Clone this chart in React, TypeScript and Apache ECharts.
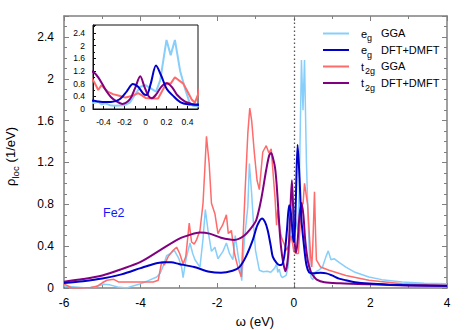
import React, { useEffect, useRef } from "react";
import * as echarts from "echarts";

// e_g GGA  [omega (eV), rho (1/eV)]
const egGGA: [number, number][] = [
  [-6.0, 0.02], [-5.7, 0.01], [-5.4, 0.0], [-5.2, 0.01], [-4.97, 0.035], [-4.8, 0.03], [-4.6, 0.01],
  [-4.36, 0.0], [-4.2, 0.02], [-4.0, 0.04], [-3.8, 0.07], [-3.58, 0.105], [-3.49, 0.14], [-3.4, 0.22],
  [-3.32, 0.31], [-3.22, 0.33], [-3.12, 0.36], [-3.0, 0.28], [-2.93, 0.2], [-2.89, 0.1], [-2.84, 0.22],
  [-2.8, 0.3], [-2.71, 0.43], [-2.64, 0.33], [-2.58, 0.27], [-2.45, 0.2], [-2.37, 0.47], [-2.31, 0.75],
  [-2.24, 0.55], [-2.15, 0.35], [-2.06, 0.39], [-1.98, 0.28], [-1.85, 0.35], [-1.76, 0.43], [-1.68, 0.33],
  [-1.59, 0.27], [-1.53, 0.5], [-1.45, 0.3], [-1.4, 0.2], [-1.36, 0.07], [-1.29, 0.46], [-1.2, 0.78],
  [-1.16, 1.19], [-1.1, 0.9], [-1.05, 0.6], [-1.0, 0.36], [-0.9, 0.17], [-0.8, 0.155], [-0.7, 0.16],
  [-0.6, 0.15], [-0.5, 0.19], [-0.45, 0.23], [-0.42, 0.15], [-0.38, 0.18], [-0.34, 0.12], [-0.3, 0.1],
  [-0.2, 0.12], [-0.15, 0.2], [-0.1, 0.45], [-0.05, 0.7], [0.0, 0.75], [0.05, 0.65], [0.1, 0.55],
  [0.14, 0.9], [0.2, 2.18], [0.24, 1.7], [0.28, 2.18], [0.33, 1.2], [0.38, 0.6], [0.42, 0.2],
  [0.45, 0.1], [0.5, 0.08], [0.55, 0.15], [0.65, 0.17], [0.75, 0.2], [0.84, 0.3], [0.9, 0.355],
  [0.97, 0.27], [1.05, 0.28], [1.2, 0.24], [1.36, 0.2], [1.6, 0.15], [1.96, 0.105], [2.3, 0.08],
  [2.83, 0.058], [3.4, 0.045], [4.0, 0.04],
];

// e_g DFT+DMFT
const egDMFT: [number, number][] = [
  [-6.0, 0.048], [-5.5, 0.065], [-5.0, 0.09], [-4.5, 0.13], [-4.0, 0.19], [-3.7, 0.225], [-3.4, 0.245],
  [-3.2, 0.245], [-3.0, 0.23], [-2.6, 0.2], [-2.2, 0.155], [-1.9, 0.145], [-1.6, 0.165], [-1.42, 0.2],
  [-1.25, 0.3], [-1.07, 0.46], [-0.95, 0.6], [-0.83, 0.665], [-0.75, 0.63], [-0.68, 0.55], [-0.6, 0.4],
  [-0.55, 0.3], [-0.45, 0.24], [-0.38, 0.22], [-0.33, 0.22], [-0.25, 0.3], [-0.18, 0.55], [-0.12, 0.79],
  [-0.07, 0.7], [-0.02, 0.48], [0.01, 0.44], [0.05, 0.8], [0.1, 1.37], [0.15, 1.05], [0.2, 0.65],
  [0.27, 0.39], [0.33, 0.22], [0.4, 0.15], [0.5, 0.14], [0.7, 0.145], [0.85, 0.14], [1.0, 0.12],
  [1.18, 0.09], [1.36, 0.074], [1.6, 0.055], [1.96, 0.042], [2.5, 0.032], [3.0, 0.027], [4.0, 0.022],
];

// t2g GGA
const t2gGGA: [number, number][] = [
  [-6.0, 0.04], [-5.9, 0.02], [-5.8, 0.0], [-5.5, 0.0], [-5.3, 0.005], [-5.14, 0.016], [-5.0, 0.05],
  [-4.88, 0.074], [-4.7, 0.083], [-4.58, 0.058], [-4.0, 0.058], [-3.67, 0.058], [-3.54, 0.074],
  [-3.45, 0.25], [-3.38, 0.22], [-3.28, 0.3], [-3.15, 0.36], [-3.06, 0.39], [-2.98, 0.33], [-2.89, 0.23],
  [-2.82, 0.3], [-2.73, 0.62], [-2.67, 0.44], [-2.6, 0.42], [-2.54, 0.46], [-2.45, 0.55], [-2.37, 0.81],
  [-2.32, 1.16], [-2.28, 1.45], [-2.21, 1.19], [-2.15, 0.81], [-2.06, 0.71], [-1.98, 0.52], [-1.94, 0.55],
  [-1.86, 0.6], [-1.76, 0.7], [-1.71, 0.52], [-1.63, 0.55], [-1.55, 0.33], [-1.46, 0.2], [-1.37, 0.105],
  [-1.27, 0.94], [-1.2, 1.48], [-1.15, 1.72], [-1.1, 1.6], [-1.03, 1.29], [-0.96, 1.03], [-0.9, 0.94],
  [-0.81, 1.3], [-0.72, 1.36], [-0.65, 1.29], [-0.59, 1.33], [-0.52, 1.0], [-0.49, 0.86], [-0.45, 0.6],
  [-0.42, 0.75], [-0.36, 0.55], [-0.31, 0.47], [-0.25, 0.42], [-0.19, 0.36], [-0.12, 0.42], [-0.07, 0.5],
  [-0.03, 0.42], [0.0, 0.35], [0.06, 0.33], [0.12, 0.33], [0.2, 0.82], [0.24, 0.8], [0.28, 1.0],
  [0.32, 0.9], [0.36, 0.8], [0.4, 0.55], [0.44, 0.3], [0.47, 0.2], [0.5, 0.45], [0.54, 0.92],
  [0.57, 0.5], [0.59, 0.27], [0.7, 0.2], [0.92, 0.17], [1.36, 0.12], [1.96, 0.074], [2.82, 0.04],
  [3.5, 0.03], [4.0, 0.025],
];

// t2g DFT+DMFT
const t2gDMFT: [number, number][] = [
  [-6.0, 0.06], [-5.5, 0.085], [-5.0, 0.12], [-4.5, 0.18], [-4.0, 0.25], [-3.5, 0.36], [-3.0, 0.47],
  [-2.7, 0.51], [-2.45, 0.53], [-2.2, 0.52], [-1.9, 0.48], [-1.55, 0.46], [-1.3, 0.5], [-1.1, 0.58],
  [-0.98, 0.65], [-0.85, 0.85], [-0.72, 1.13], [-0.64, 1.27], [-0.59, 1.29], [-0.53, 1.22],
  [-0.49, 1.15], [-0.45, 1.0], [-0.41, 0.78], [-0.37, 0.55], [-0.33, 0.38], [-0.28, 0.25], [-0.22, 0.16],
  [-0.15, 0.3], [-0.1, 0.65], [-0.05, 1.03], [-0.01, 0.7], [0.03, 0.4], [0.06, 0.34], [0.1, 0.45],
  [0.15, 0.7], [0.2, 0.81], [0.25, 0.7], [0.3, 0.45], [0.37, 0.25], [0.45, 0.15], [0.5, 0.12],
  [0.6, 0.08], [0.8, 0.055], [1.2, 0.045], [2.0, 0.035], [3.0, 0.025], [4.0, 0.02],
];

const legendMain = ["e", "e", "t", "t"];
const legendSub = ["g", "g", "2g", "2g"];
const legendMethod = ["GGA", "DFT+DMFT", "GGA", "DFT+DMFT"];

const COLORS = ["#87cefa", "#0000c8", "#ff6a6a", "#800080"];
const FONT = "'Liberation Sans', Arial, Helvetica, sans-serif";
const AX = "#808080";

export default function App() {
  const ref = useRef<HTMLDivElement>(null);
  useEffect(() => {
    const chart = echarts.init(ref.current!, null, { renderer: "svg" });

    const mainAxisCommon = {
      axisLine: { show: true, onZero: false, lineStyle: { color: AX, width: 1.5 } },
      axisTick: { show: true, inside: true, length: 5, lineStyle: { color: AX, width: 1 } },
      splitLine: { show: false },
      minorSplitLine: { show: false },
    };

    const insetAxisCommon = {
      axisLine: { show: true, onZero: false, lineStyle: { color: "#111", width: 1 } },
      axisTick: { show: true, inside: true, length: 3, lineStyle: { color: "#111", width: 1 } },
      splitLine: { show: false },
      minorSplitLine: { show: false },
      z: 6,
    };

    const series: any[] = [];
    const sets = [
      { data: egGGA, color: COLORS[0], w: 1.5, smooth: false, z: 2 },
      { data: t2gGGA, color: COLORS[2], w: 1.5, smooth: false, z: 3 },
      { data: t2gDMFT, color: COLORS[3], w: 2, smooth: 0.3, z: 4 },
      { data: egDMFT, color: COLORS[1], w: 2, smooth: 0.3, z: 5 },
    ];
    sets.forEach((s, i) => {
      series.push({
        type: "line",
        xAxisIndex: 0,
        yAxisIndex: 0,
        data: s.data,
        showSymbol: false,
        smooth: s.smooth,
        clip: true,
        z: s.z,
        lineStyle: { color: s.color, width: s.w },
        markLine:
          i === 0
            ? {
                silent: true,
                symbol: ["none", "none"],
                label: { show: false },
                lineStyle: { type: [1.5, 2.5], color: "#555", width: 1.3 },
                data: [{ xAxis: 0 }],
              }
            : undefined,
      });
      series.push({
        type: "line",
        xAxisIndex: 2,
        yAxisIndex: 2,
        data: s.data,
        showSymbol: false,
        smooth: s.smooth,
        clip: true,
        z: 10 + s.z,
        lineStyle: { color: s.color, width: 2 },
        markLine:
          i === 0
            ? {
                silent: true,
                symbol: ["none", "none"],
                label: { show: false },
                lineStyle: { type: [3, 2], color: "#111", width: 1 },
                data: [{ xAxis: 0 }],
              }
            : undefined,
      });
    });

    const rowY = [33.5, 50, 66.5, 83];
    const legendGraphics: any[] = [];
    rowY.forEach((y, i) => {
      legendGraphics.push({
        type: "line",
        shape: { x1: 323, y1: y, x2: 349, y2: y },
        style: { stroke: i === 0 ? COLORS[0] : i === 1 ? COLORS[1] : i === 2 ? COLORS[2] : COLORS[3], lineWidth: 2 },
      });
      legendGraphics.push({
        type: "text",
        x: 361,
        y: y,
        style: { text: legendMain[i], font: `11px ${FONT}`, fill: "#000", verticalAlign: "middle", align: "left" },
      });
      legendGraphics.push({
        type: "text",
        x: legendMain[i] === "e" ? 367 : 365,
        y: y + 4.5,
        style: { text: legendSub[i], font: `9px ${FONT}`, fill: "#000", verticalAlign: "middle", align: "left" },
      });
      legendGraphics.push({
        type: "text",
        x: 381,
        y: y - 0.5,
        style: { text: legendMethod[i], font: `11px ${FONT}`, fill: "#000", verticalAlign: "middle", align: "left" },
      });
    });

    chart.setOption({
      animation: false,
      backgroundColor: "#fff",
      textStyle: { fontFamily: FONT },
      grid: [
        { left: 64, top: 16, width: 383, height: 272, show: false },
        {
          left: 93, top: 25, width: 105, height: 84, show: true,
          backgroundColor: "#fff", borderColor: "#111", borderWidth: 1, z: 6,
        },
      ],
      xAxis: [
        {
          type: "value", gridIndex: 0, position: "bottom", min: -6, max: 4, interval: 2,
          ...mainAxisCommon,
          minorTick: { show: true, splitNumber: 2, length: 3, lineStyle: { color: AX } },
          axisLabel: { color: "#000", fontSize: 12, margin: 9, fontFamily: FONT },
        },
        {
          type: "value", gridIndex: 0, position: "top", min: -6, max: 4, interval: 2,
          ...mainAxisCommon,
          minorTick: { show: true, splitNumber: 2, length: 3, lineStyle: { color: AX } },
          axisLabel: { show: false },
        },
        {
          type: "value", gridIndex: 1, position: "bottom", min: -0.5, max: 0.5, interval: 0.1,
          ...insetAxisCommon,
          axisLabel: {
            color: "#000", fontSize: 8.5, margin: 8, fontFamily: FONT,
            formatter: (v: number) => {
              const k = Math.round(v * 10);
              if (Math.abs(k) === 5 || k % 2 !== 0) return "";
              return String(k / 10);
            },
          },
        },
      ],
      yAxis: [
        {
          type: "value", gridIndex: 0, position: "left", min: 0, max: 2.6, interval: 0.4,
          ...mainAxisCommon,
          minorTick: { show: true, splitNumber: 4, length: 3, lineStyle: { color: AX } },
          axisLabel: { color: "#000", fontSize: 12, margin: 10, fontFamily: FONT, showMaxLabel: false },
        },
        {
          type: "value", gridIndex: 0, position: "right", min: 0, max: 2.6, interval: 0.4,
          ...mainAxisCommon,
          minorTick: { show: true, splitNumber: 4, length: 3, lineStyle: { color: AX } },
          axisLabel: { show: false },
        },
        {
          type: "value", gridIndex: 1, position: "left", min: 0, max: 2.65, interval: 0.4,
          ...insetAxisCommon,
          minorTick: { show: true, splitNumber: 2, length: 2, lineStyle: { color: "#111" } },
          axisLabel: { color: "#000", fontSize: 8.5, margin: 8, fontFamily: FONT, showMaxLabel: false },
        },
      ],
      series,
      graphic: [
        ...legendGraphics,
        {
          type: "text",
          x: 103,
          y: 213,
          style: { text: "Fe2", font: `12.5px ${FONT}`, fill: "#1414ff", verticalAlign: "middle", align: "left" },
        },
        {
          type: "text",
          x: 255,
          y: 321,
          style: { text: "ω (eV)", font: `13px ${FONT}`, fill: "#000", verticalAlign: "middle", align: "center" },
        },
        {
          type: "group",
          x: 10,
          y: 186,
          rotation: Math.PI / 2,
          children: [
            { type: "text", x: 0, y: 0, style: { text: "ρ", font: `13px ${FONT}`, fill: "#000", verticalAlign: "middle", align: "left" } },
            { type: "text", x: 7.5, y: 5, style: { text: "loc", font: `9.5px ${FONT}`, fill: "#000", verticalAlign: "middle", align: "left" } },
            { type: "text", x: 20, y: 0, style: { text: " (1/eV)", font: `13px ${FONT}`, fill: "#000", verticalAlign: "middle", align: "left" } },
          ],
        },
      ],
    });
    return () => chart.dispose();
  }, []);
  return <div ref={ref} style={{ position: "absolute", left: 0, top: 0, width: 471, height: 330 }} />;
}
